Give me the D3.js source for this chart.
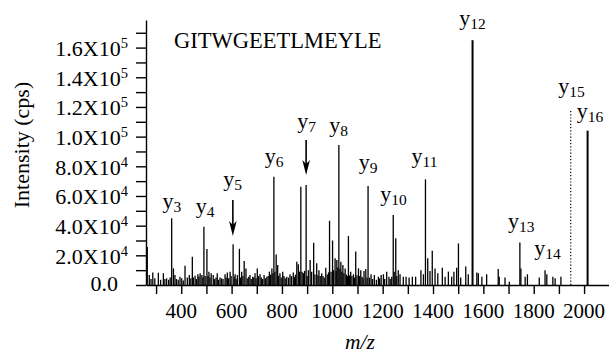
<!DOCTYPE html>
<html>
<head>
<meta charset="utf-8">
<script src="https://cdn.jsdelivr.net/npm/d3@7"></script>
<style>
  html, body { margin: 0; padding: 0; background: #fff; }
  svg { display: block; }
  text { font-family: "Liberation Serif", "Times New Roman", serif; fill: #000; }
</style>
</head>
<body>
<svg id="chart" width="609" height="354"></svg>
<script>
// ---- data ----
const peakMz = [265,273,280,287,295,309,318,329,335,342,350,356,362,369,375,381,388,395,402,408,415,424,432,438,444,448,455,460,466,470,475,482,486,490,495,502,506,510,514,519,527,532,538,543,548,554,560,566,574,578,583,588,594,598,606,610,614,618,623,631,636,640,645,650,657,662,668,673,678,684,688,693,697,702,707,713,718,723,729,734,740,745,750,755,760,764,768,772,777,783,787,792,797,803,808,813,819,826,832,838,845,850,854,859,865,870,875,880,885,890,896,900,905,912,918,926,931,938,943,947,952,958,963,968,974,980,985,989,995,1001,1005,1011,1015,1018,1022,1026,1030,1034,1038,1042,1046,1051,1056,1060,1064,1068,1073,1078,1084,1088,1093,1098,1104,1108,1113,1118,1122,1126,1133,1138,1142,1148,1154,1160,1167,1175,1183,1188,1194,1203,1208,1216,1225,1230,1236,1242,1246,1252,1256,1262,1269,1282,1293,1305,1318,1331,1352,1362,1370,1379,1388,1397,1408,1419,1437,1448,1461,1474,1483,1494,1501,1510,1530,1540,1557,1574,1580,1594,1613,1659,1663,1686,1703,1745,1749,1766,1775,1822,1845,1852,1876,1885,1908,2014];
const peakIntensity = [25600,6700,4000,8500,4500,8300,3500,7900,4000,4500,3500,5000,45000,11200,6700,4000,3500,5600,4500,3000,13000,5000,6700,4500,19000,5000,6300,4000,7200,5500,7900,6700,5000,39300,6000,24300,6000,9000,5000,7900,6700,4000,5000,7900,3500,5000,4500,4000,7200,5000,8500,4500,9000,6000,27500,5500,7200,4000,6700,24400,5000,9000,6000,16200,11200,4500,5500,6700,4000,5600,5000,7900,4500,11200,6000,7200,5000,4000,6700,4500,5600,6000,9000,7000,11200,8000,73000,9000,20500,13500,6000,7900,5000,9000,6000,4500,5600,5000,7200,6000,8500,5500,7000,15700,14000,9000,66200,9000,8000,9500,67400,6000,10000,16800,9000,28500,7000,14600,6500,10000,6000,7900,6000,5000,11700,7000,8500,43300,9000,30000,10000,18000,9500,16800,12000,94300,11000,15700,9000,13500,8000,11200,7000,6000,33000,6500,9000,6000,7200,5000,22500,6500,11200,6000,10000,5500,4500,9400,10800,5000,66700,5000,7200,4000,6700,3500,5600,4500,6700,7200,4000,9000,5600,4000,5600,47200,9000,31500,6000,10000,7200,5600,5600,5000,5600,5600,10000,7200,71200,18000,9400,23000,11200,7900,11700,5600,9000,5600,9000,11700,28000,5000,12400,7200,165000,8500,7900,5600,7200,10800,5600,5000,2200,28600,11200,5600,7200,5000,10000,7200,5600,4500,5600,104000];

// ion labels: name, subscript, label centre m/z, label baseline intensity
const ionNames = ["y","y","y","y","y","y","y","y","y","y","y","y","y","y"];
const ionSubs  = ["3","4","5","6","7","8","9","10","11","12","13","14","15","16"];
const ionLabelMz = [363,495,604,769,898,1025,1142,1243,1366,1557,1750,1855,1950,2024];
const ionLabelInt = [52200,48200,66700,82500,105500,102800,78500,56900,81900,174900,38700,19900,129600,112500];

// arrows: m/z, start intensity, tip intensity
const arrowMz = [605, 896];
const arrowFrom = [57300, 97700];
const arrowTo = [33000, 74100];

// dotted (missing) ion y15
const dottedMz = [1947];
const dottedInt = [118400];

const xTickValues = d3.range(300, 2001, 100);
const xLabelValues = [400,600,800,1000,1200,1400,1600,1800,2000];
const yTickValues = d3.range(0, 170001, 10000);
const yLabelValues = [0,20000,40000,60000,80000,100000,120000,140000,160000];
const yLabelMant = ["0.0","2.0","4.0","6.0","8.0","1.0","1.2","1.4","1.6"];
const yLabelExp = ["","4","4","4","4","5","5","5","5"];

const peptide = "GITWGEETLMEYLE";
const xTitle = "m/z";
const yTitle = "Intensity (cps)";

// ---- drawing ----
const svg = d3.select("#chart");
const x = d3.scaleLinear().domain([260, 2099]).range([146, 609]);
const y = d3.scaleLinear().domain([0, 178600]).range([285, 20]);

// peaks
svg.append("g").selectAll("line").data(peakMz).join("line")
  .attr("x1", d => x(d)).attr("x2", d => x(d))
  .attr("y1", y(0))
  .attr("y2", (d, i) => y(peakIntensity[i]))
  .attr("stroke", "#000")
  .attr("stroke-width", (d, i) => peakIntensity[i] > 100000 ? 2 : 1.3);

// dotted y15
svg.append("g").selectAll("line").data(dottedMz).join("line")
  .attr("x1", d => x(d)).attr("x2", d => x(d))
  .attr("y1", y(0)).attr("y2", (d, i) => y(dottedInt[i]))
  .attr("stroke", "#000").attr("stroke-width", 1.2)
  .attr("stroke-dasharray", "1.2,2");

// axes
const yAxis = d3.axisLeft(y).tickValues(yTickValues).tickSize(10).tickSizeOuter(0).tickFormat("");
const gy = svg.append("g").attr("transform", "translate(146,0)").call(yAxis);
const xAxis = d3.axisBottom(x).tickValues(xTickValues).tickSize(9).tickSizeOuter(0).tickFormat("");
const gx = svg.append("g").attr("transform", "translate(0,285)").call(xAxis);
[gx, gy].forEach(g => {
  g.selectAll("path, line").attr("stroke", "#000").attr("stroke-width", 1.4);
});

// x tick labels
svg.append("g").selectAll("text").data(xLabelValues).join("text")
  .attr("x", d => x(d)).attr("y", 318)
  .attr("text-anchor", "middle").style("font-size", "21px")
  .text(d => d);

// y tick labels
const yl = svg.append("g").selectAll("text").data(yLabelValues).join("text")
  .attr("x", (d, i) => yLabelExp[i] ? 128 : 118)
  .attr("y", (d, i) => y(d) + (yLabelExp[i] ? 8.5 : 6))
  .attr("text-anchor", "end").style("font-size", "22px");
yl.each(function(d, i) {
  const t = d3.select(this);
  if (yLabelExp[i]) {
    t.append("tspan").text(yLabelMant[i] + "X10");
    t.append("tspan").attr("dy", -8).style("font-size", "14.5px").text(yLabelExp[i]);
  } else {
    t.text(yLabelMant[i]);
  }
});

// peptide sequence
svg.append("text").attr("x", 174).attr("y", 47.5)
  .style("font-size", "22.5px").text(peptide);

// ion labels
const il = svg.append("g").selectAll("text").data(ionLabelMz).join("text")
  .attr("x", d => x(d)).attr("y", (d, i) => y(ionLabelInt[i]))
  .attr("text-anchor", "middle").style("font-size", "22px");
il.each(function(d, i) {
  const t = d3.select(this);
  t.append("tspan").text(ionNames[i]);
  t.append("tspan").attr("dy", 4).style("font-size", "15.5px").text(ionSubs[i]);
});

// arrows
const ag = svg.append("g");
arrowMz.forEach((m, i) => {
  const ax = x(m), y0 = y(arrowFrom[i]), y1 = y(arrowTo[i]);
  ag.append("line").attr("x1", ax).attr("x2", ax).attr("y1", y0).attr("y2", y1 - 10)
    .attr("stroke", "#000").attr("stroke-width", 1.6);
  ag.append("path")
    .attr("d", `M${ax - 3.8},${y1 - 15} L${ax},${y1 - 11} L${ax + 3.8},${y1 - 15} L${ax},${y1} Z`)
    .attr("fill", "#000");
});

// axis titles
svg.append("text").attr("x", 360).attr("y", 349)
  .attr("text-anchor", "middle").style("font-size", "21.5px").style("font-style", "italic")
  .text(xTitle);
svg.append("text")
  .attr("transform", "translate(29,145) rotate(-90)")
  .attr("text-anchor", "middle").style("font-size", "22px")
  .text(yTitle);
</script>
</body>
</html>
